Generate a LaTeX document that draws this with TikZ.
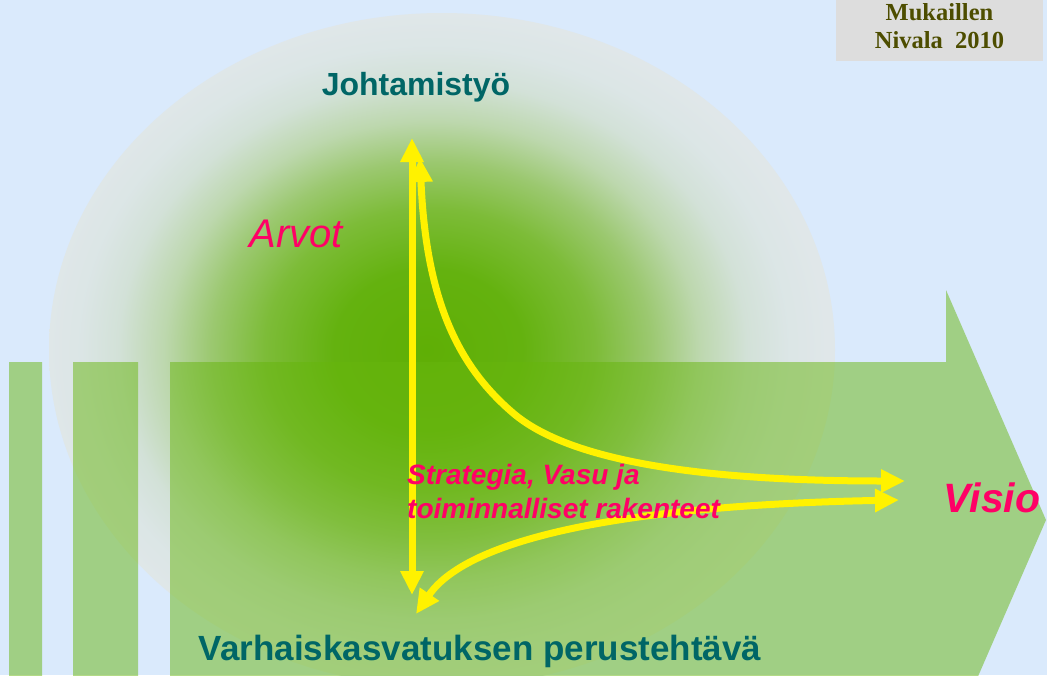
\documentclass[tikz,border=0pt]{standalone}
\usepackage{fontspec}
\setmainfont{Liberation Serif}
\setsansfont{Liberation Sans}
\usepackage{tikz}
\usetikzlibrary{arrows.meta,positioning}
\definecolor{skyblue}{RGB}{218,234,252}
\definecolor{arrowgreen}{RGB}{103,182,13}
\definecolor{tealtext}{RGB}{0,102,102}
\definecolor{rosetext}{RGB}{255,0,102}
\definecolor{olivetext}{RGB}{77,77,0}
\definecolor{boxgrey}{RGB}{221,221,221}
\pgfdeclareradialshading{greenglow}{\pgfpoint{-1bp}{0bp}}{%
rgb(0bp)=(0.373,0.686,0.02);
rgb(6bp)=(0.392,0.698,0.059);
rgb(10.5bp)=(0.49,0.737,0.22);
rgb(14bp)=(0.61,0.785,0.44);
rgb(17bp)=(0.74,0.845,0.68);
rgb(20bp)=(0.825,0.883,0.845);
rgb(22.5bp)=(0.86,0.9,0.9);
rgb(25bp)=(0.878,0.906,0.914);
rgb(50bp)=(0.878,0.906,0.914)}

\begin{document}
\begin{tikzpicture}[x=1pt,y=-1pt,>={Triangle[length=24pt,width=22pt]},
  flow/.style={draw=yellow,line width=7pt,<->},
  headline/.style={text=tealtext,font=\sffamily\bfseries\fontsize{32}{38}\selectfont,inner sep=0pt},
  keyword/.style={text=rosetext,inner sep=0pt},
  strategy/.style={keyword,anchor=base west,font=\sffamily\bfseries\itshape\fontsize{28}{34}\selectfont}]
\useasboundingbox (0,0) rectangle (1047,675);
\clip (0,0) rectangle (1047,675);
\fill[skyblue] (0,0) rectangle (1047,675);
\shade[shading=greenglow] (442,350) ellipse [x radius=393pt,y radius=337pt];
\fill[arrowgreen,fill opacity=0.5]
(170,362)--(946,362)--(946,290)--(1046,520)--(946,750)--(946,678)--(170,678)--cycle
(9,362) rectangle (42,678)
(73,362) rectangle (138,678);
\node[fill=boxgrey,minimum width=207pt,minimum height=61pt,inner sep=0pt] (source) at (939.5,30.5) {};
\node[text=olivetext,align=center,inner sep=0pt,font=\bfseries\fontsize{24.5}{28}\selectfont]
  (sourcetext) at ([yshift=4.5pt]source.center) {Mukaillen\\Nivala~~2010};
\coordinate (lead) at (412,138);
\coordinate (base) at (412,595);
\coordinate (leadcurve) at (420,158);
\coordinate (bend) at (513,413);
\coordinate (visioup) at (905,481);
\coordinate (visiolow) at (899,500);
\coordinate (baselow) at (416,614);
\draw[flow] (lead)--(base);
\draw[flow] (leadcurve) .. controls (426,300) and (458,366) .. (bend)
  .. controls (569,461) and (700,481) .. (visioup);
\draw[flow] (visiolow) .. controls (640,505) and (470,535) .. (baselow);
\node[headline,anchor=base] (johtamistyo) at (416,95) {Johtamistyö};
\node[headline,anchor=base,font=\sffamily\bfseries\fontsize{35}{42}\selectfont] (perustehtava) at (480,660) {Varhaiskasvatuksen perustehtävä};
\node[keyword,anchor=base,font=\sffamily\itshape\fontsize{40}{48}\selectfont] (arvot) at (296,247) {Arvot};
\node[keyword,anchor=base,font=\sffamily\bfseries\itshape\fontsize{41}{49}\selectfont] (visio) at (992,512) {Visio};
\node[strategy] (vasu) at (407,484) {Strategia, Vasu ja};
\node[strategy] (rakenteet) at (407,518) {toiminnalliset rakenteet};
\end{tikzpicture}
\end{document}
